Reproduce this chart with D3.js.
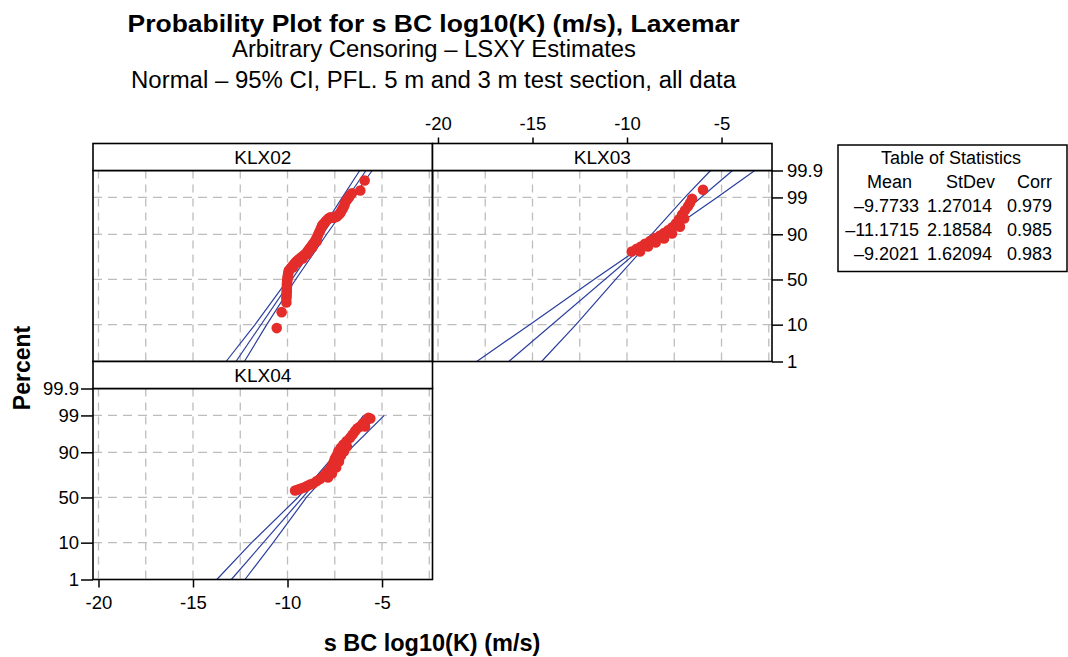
<!DOCTYPE html>
<html>
<head>
<meta charset="utf-8">
<script src="https://cdn.jsdelivr.net/npm/d3@7"></script>
<style>
  body { margin: 0; background: #fff; }
  text { font-family: "Liberation Sans", Arial, sans-serif; fill: #000; }
</style>
</head>
<body>
<script>
// groups and fitted parameters (Table of Statistics)
var groups = ['KLX02', 'KLX03', 'KLX04'];
var means = [-9.7733, -11.1715, -9.2021];
var stdevs = [1.27014, 2.18584, 1.62094];
var corrs = [0.979, 0.985, 0.983];

var xTicks = [-20, -15, -10, -5];
var xGrid = [-20, -17.5, -15, -12.5, -10, -7.5, -5, -2.5];
var pTicks = [99.9, 99, 90, 50, 10, 1];
var pGrid = [99, 90, 50, 10];

// confidence bands: percent, lower x, upper x
var ciPercents = [
	[1, 10, 50, 90, 99, 99.9],
	[1, 10, 50, 75, 90, 99, 99.9],
	[1, 10, 50, 90, 99]
];
var ciLower = [
	[-13.25, -11.72, -9.97, -8.36, -7.10, -6.18],
	[-17.95, -15.15, -11.75, -9.92, -8.70, -6.94, -5.58],
	[-13.74, -11.90, -9.45, -7.38, -5.98]
];
var ciUpper = [
	[-12.28, -11.10, -9.57, -7.93, -6.54, -5.52],
	[-14.52, -12.70, -10.60, -9.47, -8.04, -5.24, -3.24],
	[-12.25, -10.76, -9.00, -6.85, -4.88]
];

// plotted points [x, percent]
var klx02Points = [
	[-10.57, 8.4], [-10.31, 17.7], [-10.06, 25.7],
	[-10.06, 29.5], [-10.05, 32.0], [-10.05, 34.5], [-10.04, 37.0], [-10.04, 39.5], [-10.03, 42.0],
	[-10.03, 44.5], [-10.02, 47.0], [-10.01, 49.5], [-10.00, 52.0], [-9.98, 54.5], [-9.96, 57.0],
	[-9.94, 59.6], [-9.88, 61.2], [-9.82, 62.8], [-9.75, 64.3], [-9.69, 65.8], [-9.63, 67.3],
	[-9.57, 68.8], [-9.50, 69.9], [-9.44, 70.9], [-9.37, 71.9], [-9.31, 72.9], [-9.24, 73.9],
	[-9.17, 74.8], [-9.10, 75.8], [-9.04, 76.7], [-8.97, 78.0], [-8.91, 79.4], [-8.84, 80.7],
	[-8.78, 82.0], [-8.71, 83.2], [-8.65, 84.4], [-8.58, 85.5], [-8.52, 86.5], [-8.46, 88.0],
	[-8.40, 89.4], [-8.34, 90.6], [-8.28, 91.8], [-8.22, 92.8], [-8.17, 93.7], [-8.10, 94.2],
	[-8.03, 94.7], [-7.95, 95.2], [-7.87, 95.6], [-7.80, 95.9], [-7.73, 96.1], [-7.64, 96.0],
	[-7.55, 96.0], [-7.47, 96.2], [-7.39, 96.3], [-7.31, 96.6], [-7.24, 96.9], [-7.18, 97.2],
	[-7.13, 97.5], [-7.08, 97.8], [-7.03, 98.0], [-6.98, 98.3], [-6.94, 98.6], [-6.85, 98.8],
	[-6.76, 99.0], [-6.68, 99.15], [-6.59, 99.28], [-6.15, 99.42], [-5.92, 99.75],
	[-9.70, 63.5], [-9.45, 69.0], [-9.20, 72.5], [-8.95, 76.5], [-8.70, 81.5], [-8.45, 86.0]
];
var klx03Points = [
	[-9.75, 78.6], [-9.49, 80.8], [-9.26, 82.5], [-9.05, 84.4], [-8.78, 86.2], [-8.52, 88.0],
	[-8.25, 89.4], [-8.04, 90.6], [-7.83, 91.8], [-7.62, 93.0], [-7.41, 94.4], [-7.25, 95.6],
	[-7.09, 96.7], [-6.93, 97.5], [-6.77, 98.1], [-6.67, 98.5], [-6.56, 98.9], [-5.98, 99.45],
	[-9.31, 78.6], [-8.89, 82.5], [-8.48, 85.3], [-8.04, 87.7], [-7.62, 90.4], [-7.20, 93.3], [-6.98, 95.8]
];
var klx04Points = [
	[-9.60, 57.8], [-9.44, 58.9], [-9.29, 60.1], [-9.13, 61.1], [-8.97, 62.8], [-8.81, 64.4],
	[-8.65, 65.4], [-8.45, 68.0], [-8.28, 70.0], [-8.11, 72.7], [-7.93, 75.8], [-7.80, 77.8],
	[-7.70, 80.2], [-7.62, 82.5], [-7.54, 84.6], [-7.49, 86.5], [-7.40, 88.3], [-7.31, 90.5],
	[-7.18, 92.1], [-7.05, 93.3], [-6.87, 94.5], [-6.69, 95.5], [-6.56, 96.3], [-6.43, 97.0],
	[-6.30, 97.5], [-6.16, 97.8], [-6.01, 98.2], [-5.85, 98.5], [-5.72, 98.8],
	[-7.86, 71.5], [-7.65, 75.2], [-7.43, 80.2], [-7.28, 84.6], [-7.17, 88.3], [-7.02, 90.4],
	[-6.86, 92.6], [-5.90, 97.8], [-5.62, 98.75]
];
var pointSets = [klx02Points, klx03Points, klx04Points];

// inverse normal cdf (probability scale)
function probit(p) {
	var a = [-3.969683028665376e+01, 2.209460984245205e+02, -2.759285104469687e+02, 1.383577518672690e+02, -3.066479806614716e+01, 2.506628277459239e+00];
	var b = [-5.447609879822406e+01, 1.615858368580409e+02, -1.556989798598866e+02, 6.680131188771972e+01, -1.328068155288572e+01];
	var c = [-7.784894002430293e-03, -3.223964580411365e-01, -2.400758277161838e+00, -2.549732539343734e+00, 4.374664141464968e+00, 2.938163982698783e+00];
	var d = [7.784695709041462e-03, 3.224671290700398e-01, 2.445134137142996e+00, 3.754408661907416e+00];
	var q, r;
	if (p < 0.02425) {
		q = Math.sqrt(-2 * Math.log(p));
		return (((((c[0]*q + c[1])*q + c[2])*q + c[3])*q + c[4])*q + c[5]) / ((((d[0]*q + d[1])*q + d[2])*q + d[3])*q + 1);
	}
	if (p > 1 - 0.02425) {
		q = Math.sqrt(-2 * Math.log(1 - p));
		return -(((((c[0]*q + c[1])*q + c[2])*q + c[3])*q + c[4])*q + c[5]) / ((((d[0]*q + d[1])*q + d[2])*q + d[3])*q + 1);
	}
	q = p - 0.5;
	r = q * q;
	return (((((a[0]*r + a[1])*r + a[2])*r + a[3])*r + a[4])*r + a[5])*q / (((((b[0]*r + b[1])*r + b[2])*r + b[3])*r + b[4])*r + 1);
}
function zp(pct) { return probit(pct / 100); }

var blue = '#2b3f9e', red = '#e42d2a', gridGrey = '#bdbdbd';

var panelW = 339.5, stripH = 27, plotH = 191;
var colX = [93, 432.5], rowY = [143.5, 361.5];
var layout = [[0, 0], [1, 0], [0, 1]]; // [col, row] for each group

var svg = d3.select('body').append('svg')
	.attr('width', 1068)
	.attr('height', 657);

var x = d3.scaleLinear()
	.domain([-20.29, -2.33])
	.range([0, panelW]);

var y = d3.scaleLinear()
	.domain([zp(1), zp(99.9)])
	.range([plotH, 0]);

var line = d3.line()
	.x(function(d) { return x(d[0]); })
	.y(function(d) { return y(zp(d[1])); });

groups.forEach(function(name, gi) {
	var left = colX[layout[gi][0]],
	    top = rowY[layout[gi][1]];

	var panel = svg.append('g')
		.attr('transform', 'translate(' + left + ',' + (top + stripH) + ')');

	svg.append('clipPath')
		.attr('id', 'clip' + gi)
		.append('rect')
		.attr('width', panelW)
		.attr('height', plotH);

	// grid
	panel.selectAll('.vgrid')
		.data(xGrid)
		.enter()
		.append('line')
		.attr('x1', function(d) { return x(d); })
		.attr('x2', function(d) { return x(d); })
		.attr('y1', 0)
		.attr('y2', plotH)
		.style('stroke', gridGrey)
		.style('stroke-width', 1.3)
		.style('stroke-dasharray', '8,6');

	panel.selectAll('.hgrid')
		.data(pGrid)
		.enter()
		.append('line')
		.attr('x1', 0)
		.attr('x2', panelW)
		.attr('y1', function(d) { return y(zp(d)); })
		.attr('y2', function(d) { return y(zp(d)); })
		.style('stroke', gridGrey)
		.style('stroke-width', 1.3)
		.style('stroke-dasharray', '9,6');

	var inner = panel.append('g')
		.attr('clip-path', 'url(#clip' + gi + ')');

	var pcts = ciPercents[gi];
	var lowerPts = pcts.map(function(p, i) { return [ciLower[gi][i], p]; });
	var upperPts = pcts.map(function(p, i) { return [ciUpper[gi][i], p]; });
	var fitPts = [pcts[0], pcts[pcts.length - 1]].map(function(p) {
		return [means[gi] + stdevs[gi] * zp(p), p];
	});

	[lowerPts, fitPts, upperPts].forEach(function(pts) {
		inner.append('path')
			.attr('d', line(pts))
			.style('fill', 'none')
			.style('stroke', blue)
			.style('stroke-width', 1.2);
	});

	inner.selectAll('circle')
		.data(pointSets[gi])
		.enter()
		.append('circle')
		.attr('cx', function(d) { return x(d[0]); })
		.attr('cy', function(d) { return y(zp(d[1])); })
		.attr('r', 5.3)
		.style('fill', red);

	// frame + strip
	panel.append('rect')
		.attr('width', panelW)
		.attr('height', plotH)
		.style('fill', 'none')
		.style('stroke', '#000')
		.style('stroke-width', 1.6);

	var strip = svg.append('g')
		.attr('transform', 'translate(' + left + ',' + top + ')');

	strip.append('rect')
		.attr('width', panelW)
		.attr('height', stripH)
		.style('fill', '#fff')
		.style('stroke', '#000')
		.style('stroke-width', 1.6);

	strip.append('text')
		.attr('x', panelW / 2)
		.attr('y', stripH / 2 + 6.5)
		.attr('text-anchor', 'middle')
		.style('font-size', '19px')
		.text(name);
});

// axes
function styleAxis(g) {
	g.select('.domain').remove();
	g.selectAll('.tick line').style('stroke', '#000').style('stroke-width', 1.5);
	g.selectAll('.tick text').style('font-size', '18.5px').style('font-family', '"Liberation Sans", Arial, sans-serif');
}

var pLabel = function(d, i) { return String(pTicks[i]); };

svg.append('g')
	.attr('transform', 'translate(' + colX[1] + ',' + rowY[0] + ')')
	.call(d3.axisTop(x).tickValues(xTicks).tickSize(6).tickPadding(8).tickFormat(function(d) { return String(d); }))
	.call(styleAxis);

svg.append('g')
	.attr('transform', 'translate(' + (colX[1] + panelW) + ',' + (rowY[0] + stripH) + ')')
	.call(d3.axisRight(y).tickValues(pTicks.map(zp)).tickSize(11).tickPadding(4).tickFormat(pLabel))
	.call(styleAxis);

svg.append('g')
	.attr('transform', 'translate(' + colX[0] + ',' + (rowY[1] + stripH) + ')')
	.call(d3.axisLeft(y).tickValues(pTicks.map(zp)).tickSize(12).tickPadding(2).tickFormat(pLabel))
	.call(styleAxis);

svg.append('g')
	.attr('transform', 'translate(' + colX[0] + ',' + (rowY[1] + stripH + plotH) + ')')
	.call(d3.axisBottom(x).tickValues(xTicks).tickSize(8).tickPadding(8).tickFormat(function(d) { return String(d); }))
	.call(styleAxis);

// titles
svg.append('text')
	.attr('x', 433.5).attr('y', 32)
	.attr('text-anchor', 'middle')
	.attr('textLength', 612).attr('lengthAdjust', 'spacingAndGlyphs')
	.style('font-size', '24px').style('font-weight', 'bold')
	.text('Probability Plot for s BC log10(K) (m/s), Laxemar');

svg.append('text')
	.attr('x', 434).attr('y', 56.5)
	.attr('text-anchor', 'middle')
	.attr('textLength', 404).attr('lengthAdjust', 'spacingAndGlyphs')
	.style('font-size', '23px')
	.text('Arbitrary Censoring – LSXY Estimates');

svg.append('text')
	.attr('x', 433.5).attr('y', 88)
	.attr('text-anchor', 'middle')
	.attr('textLength', 605).attr('lengthAdjust', 'spacingAndGlyphs')
	.style('font-size', '23px')
	.text('Normal – 95% CI, PFL. 5 m and 3 m test section, all data');

svg.append('text')
	.attr('x', 432).attr('y', 651)
	.attr('text-anchor', 'middle')
	.style('font-size', '23.5px').style('font-weight', 'bold')
	.text('s BC log10(K) (m/s)');

svg.append('text')
	.attr('transform', 'translate(30,368) rotate(-90)')
	.attr('text-anchor', 'middle')
	.style('font-size', '23px').style('font-weight', 'bold')
	.text('Percent');

// table of statistics
var table = svg.append('g');

table.append('rect')
	.attr('x', 838).attr('y', 145)
	.attr('width', 229).attr('height', 126.5)
	.style('fill', '#fff')
	.style('stroke', '#000')
	.style('stroke-width', 1.5);

table.append('text')
	.attr('x', 951).attr('y', 164)
	.attr('text-anchor', 'middle')
	.style('font-size', '18px')
	.text('Table of Statistics');

var headers = ['Mean', 'StDev', 'Corr'];
var headerX = [912, 995, 1052];
var valueX = [919, 992, 1052];

table.selectAll('.hdr')
	.data(headers)
	.enter()
	.append('text')
	.attr('x', function(d, i) { return headerX[i]; })
	.attr('y', 188)
	.attr('text-anchor', 'end')
	.style('font-size', '18px')
	.text(function(d) { return d; });

groups.forEach(function(name, gi) {
	var cells = ['\u2013' + Math.abs(means[gi]).toFixed(4), stdevs[gi].toFixed(5), corrs[gi].toFixed(3)];
	table.selectAll('.row' + gi)
		.data(cells)
		.enter()
		.append('text')
		.attr('x', function(d, i) { return valueX[i]; })
		.attr('y', 212 + gi * 24)
		.attr('text-anchor', 'end')
		.style('font-size', '18px')
		.text(function(d) { return d; });
});
</script>
</body>
</html>
